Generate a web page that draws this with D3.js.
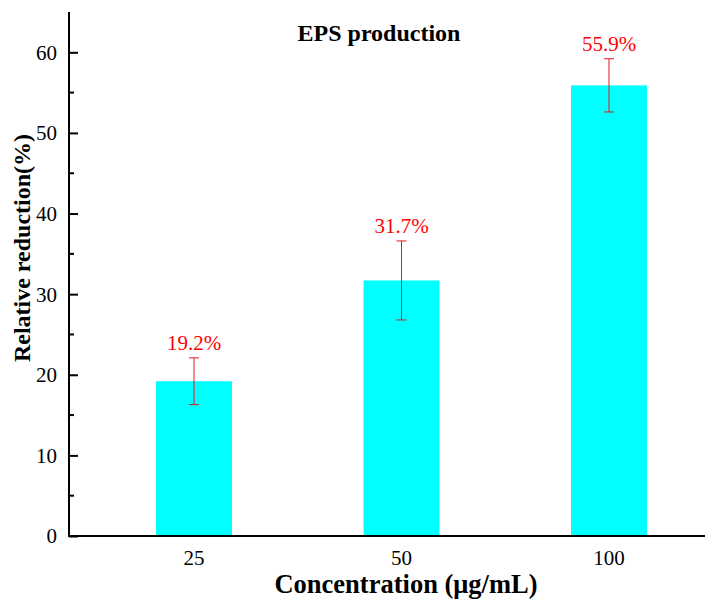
<!doctype html>
<html>
<head>
<meta charset="UTF-8">
<title>EPS production</title>
<script src="https://cdn.jsdelivr.net/npm/d3@7"></script>
<style>
  body { margin: 0; background: #fff; }
</style>
</head>
<body>
<div id="chart"></div>
<script>
// data
const concentrations = ["25", "50", "100"];
const reduction = [19.2, 31.7, 55.9];
const errors = [2.9, 4.9, 3.3];
const yTicks = [0, 10, 20, 30, 40, 50, 60];

const width = 705, height = 605;
const plotLeft = 69, plotBottom = 536, plotTop = 12, plotRight = 705;
const serif = '"Liberation Serif"';

const svg = d3.select("#chart").append("svg")
    .attr("width", width)
    .attr("height", height)
    .style("display", "block");

const x = d3.scaleBand()
    .domain(concentrations)
    .range([90.25, 712.75])
    .paddingInner(0.634)
    .paddingOuter(0.317);

const y = d3.scaleLinear()
    .domain([0, 65])
    .range([plotBottom, plotTop]);

// bars
svg.selectAll("rect.bar")
    .data(concentrations)
    .join("rect")
    .attr("class", "bar")
    .attr("x", d => x(d))
    .attr("width", x.bandwidth())
    .attr("y", (d, i) => y(reduction[i]))
    .attr("height", (d, i) => plotBottom - y(reduction[i]))
    .attr("fill", "#00ffff");

// error bars + value labels
const eb = svg.append("g").attr("stroke", "#e31a1c").attr("stroke-width", 1);
concentrations.forEach((c, i) => {
    const cx = x(c) + x.bandwidth() / 2;
    const hi = y(reduction[i] + errors[i]);
    const lo = y(reduction[i] - errors[i]);
    eb.append("line").attr("x1", cx).attr("x2", cx).attr("y1", hi).attr("y2", lo);
    eb.append("line").attr("x1", cx - 5).attr("x2", cx + 5).attr("y1", hi).attr("y2", hi);
    eb.append("line").attr("x1", cx - 5).attr("x2", cx + 5).attr("y1", lo).attr("y2", lo);
    svg.append("text")
        .attr("x", cx)
        .attr("y", hi - 8)
        .attr("text-anchor", "middle")
        .attr("fill", "#ff0000")
        .style("font-family", serif)
        .style("font-size", "21px")
        .text(reduction[i].toFixed(1) + "%");
});

// y axis: ticks pointing inward
const yAxis = svg.append("g")
    .attr("transform", `translate(${plotLeft},0)`)
    .call(d3.axisRight(y).tickValues(yTicks).tickSize(9).tickFormat(""));
yAxis.select(".domain").remove();
yAxis.selectAll("line").attr("stroke", "#000").attr("stroke-width", 2);

const minor = d3.range(5, 65, 10);
svg.append("g").selectAll("line")
    .data(minor)
    .join("line")
    .attr("x1", plotLeft).attr("x2", plotLeft + 5)
    .attr("y1", d => y(d)).attr("y2", d => y(d))
    .attr("stroke", "#000").attr("stroke-width", 2);

svg.append("g").selectAll("text")
    .data(yTicks)
    .join("text")
    .attr("x", plotLeft - 12)
    .attr("y", d => y(d))
    .attr("dy", "0.35em")
    .attr("text-anchor", "end")
    .style("font-family", serif)
    .style("font-size", "21px")
    .text(d => d);

// axis lines
svg.append("line")
    .attr("x1", plotLeft).attr("x2", plotLeft)
    .attr("y1", plotTop).attr("y2", plotBottom + 1)
    .attr("stroke", "#000").attr("stroke-width", 2);
svg.append("line")
    .attr("x1", plotLeft - 1).attr("x2", plotRight)
    .attr("y1", plotBottom).attr("y2", plotBottom)
    .attr("stroke", "#000").attr("stroke-width", 2);

// x tick labels
svg.append("g").selectAll("text")
    .data(concentrations)
    .join("text")
    .attr("x", d => x(d) + x.bandwidth() / 2)
    .attr("y", 565)
    .attr("text-anchor", "middle")
    .style("font-family", serif)
    .style("font-size", "21px")
    .text(d => d);

// titles
svg.append("text")
    .attr("x", 379).attr("y", 41)
    .attr("text-anchor", "middle")
    .style("font-family", serif)
    .style("font-weight", "bold")
    .style("font-size", "24px")
    .text("EPS production");

svg.append("text")
    .attr("x", 406).attr("y", 593)
    .attr("text-anchor", "middle")
    .style("font-family", serif)
    .style("font-weight", "bold")
    .style("font-size", "26.5px")
    .text("Concentration (μg/mL)");

svg.append("text")
    .attr("transform", "translate(30,248) rotate(-90)")
    .attr("text-anchor", "middle")
    .style("font-family", serif)
    .style("font-weight", "bold")
    .style("font-size", "24px")
    .text("Relative reduction(%)");
</script>
</body>
</html>
